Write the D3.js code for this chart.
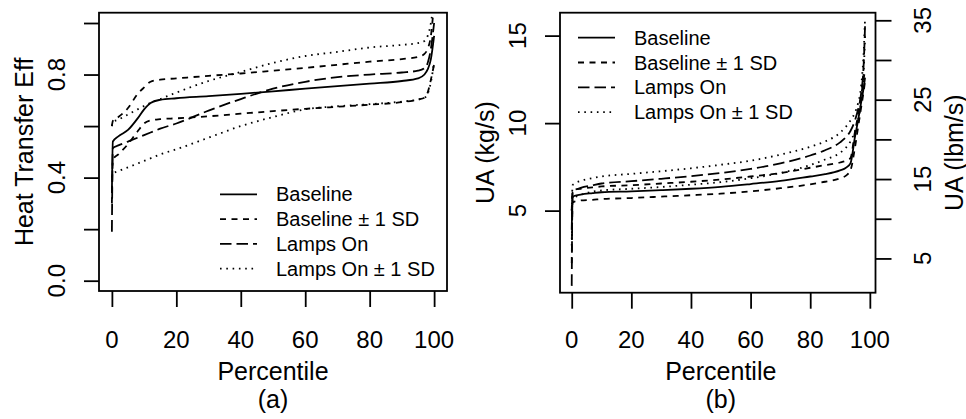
<!DOCTYPE html>
<meta charset="utf-8">
<style>
body { margin: 0; background: #fff; }
svg { display: block; background: #fff; }
text { font-family: "Liberation Sans", Arial, sans-serif; fill: #000; }
.tick line { stroke: #000; stroke-width: 1.8px; }
.frame { fill: none; stroke: #000; stroke-width: 1.8px; }
.curve { fill: none; stroke: #000; stroke-width: 1.8px; }
</style>
<svg width="966" height="419"></svg>
<script src="https://d3js.org/d3.v7.min.js"></script>
<script>

// series names, shared by both panels
var seriesNames = ["Baseline", "Baseline \u00b1 1 SD", "Lamps On", "Lamps On \u00b1 1 SD"];

// (a) heat transfer effectiveness vs percentile
var pctA     = [0, 0.3, 2, 5, 8, 10, 12, 15, 20, 30, 40, 50, 60, 70, 80, 90, 95, 97, 98, 99, 100];
var effBase  = [0.34, 0.54, 0.56, 0.585, 0.63, 0.665, 0.69, 0.702, 0.708, 0.716, 0.725, 0.735, 0.745, 0.755, 0.765, 0.775, 0.785, 0.80, 0.82, 0.86, 0.95];
var effBaseHi = [0.60, 0.62, 0.635, 0.67, 0.725, 0.75, 0.772, 0.78, 0.785, 0.795, 0.804, 0.815, 0.826, 0.838, 0.85, 0.86, 0.868, 0.88, 0.90, 0.95, 1.08];
var effBaseLo = [0.30, 0.47, 0.49, 0.53, 0.58, 0.61, 0.622, 0.627, 0.63, 0.638, 0.648, 0.658, 0.667, 0.675, 0.683, 0.693, 0.703, 0.71, 0.73, 0.78, 0.84];
var effLamp  = [0.19, 0.515, 0.525, 0.54, 0.555, 0.565, 0.575, 0.59, 0.61, 0.66, 0.705, 0.745, 0.772, 0.79, 0.80, 0.808, 0.815, 0.825, 0.845, 0.90, 1.00];
var effLampHi = [0.60, 0.615, 0.625, 0.645, 0.665, 0.678, 0.69, 0.705, 0.73, 0.775, 0.81, 0.845, 0.872, 0.888, 0.905, 0.915, 0.922, 0.93, 0.95, 1.00, 1.10];
var effLampLo = [0.40, 0.415, 0.425, 0.44, 0.455, 0.465, 0.475, 0.49, 0.51, 0.555, 0.60, 0.635, 0.665, 0.677, 0.685, 0.695, 0.703, 0.71, 0.725, 0.77, 0.85];

// (b) UA (kg/s) vs percentile
var pctB    = [0, 0.3, 1, 3, 7, 10, 20, 30, 40, 50, 60, 70, 80, 85, 90, 92, 93.5, 95, 96, 97, 98, 98.4];
var uaBase  = [3.9, 5.75, 5.85, 5.92, 6.0, 6.05, 6.1, 6.17, 6.25, 6.36, 6.52, 6.7, 6.95, 7.08, 7.3, 7.45, 7.7, 9.2, 10.1, 11.1, 12.1, 12.6];
var uaBaseHi = [5.0, 6.1, 6.2, 6.25, 6.33, 6.38, 6.45, 6.55, 6.65, 6.78, 6.95, 7.15, 7.45, 7.6, 7.75, 7.85, 8.0, 9.5, 10.4, 11.5, 12.6, 13.1];
var uaBaseLo = [2.0, 5.45, 5.52, 5.58, 5.62, 5.66, 5.72, 5.8, 5.88, 5.97, 6.1, 6.28, 6.5, 6.65, 6.85, 7.0, 7.3, 8.6, 9.7, 10.8, 11.9, 12.4];
var uaLamp  = [0.7, 6.05, 6.15, 6.3, 6.45, 6.55, 6.68, 6.82, 6.97, 7.15, 7.38, 7.7, 8.15, 8.45, 8.9, 9.2, 9.55, 10.15, 10.75, 11.6, 13.6, 15.6];
var uaLampHi = [5.0, 6.45, 6.55, 6.7, 6.86, 6.95, 7.1, 7.25, 7.42, 7.62, 7.85, 8.2, 8.65, 8.95, 9.45, 9.8, 10.15, 10.6, 11.1, 12.0, 14.3, 16.05];
var uaLampLo = [3.0, 5.65, 5.75, 5.9, 6.08, 6.15, 6.25, 6.35, 6.48, 6.63, 6.85, 7.15, 7.6, 7.92, 8.3, 8.6, 8.95, 9.55, 10.15, 11.1, 13.2, 15.0];

var xTicks = [0, 20, 40, 60, 80, 100];
var effTicks = [0, 0.2, 0.4, 0.6, 0.8, 1.0];
var effLabels = ["0.0", "", "0.4", "", "0.8", ""];
var kgTicks = [5, 10, 15];
var lbmTicks = [5, 10, 15, 20, 25, 30, 35];
var lbmLabels = ["5", "", "15", "", "25", "", "35"];
var KG_TO_LBM = 2.20462;

// line type per series: solid, dashed, long dash, dotted
var dashes = [null, "6,5.5", "11.5,5", "1.6,4.7"];

var svg = d3.select("svg");

function drawPanel(cfg) {
  var x = d3.scaleLinear().domain(cfg.xDomain).range([cfg.left, cfg.right]);
  var y = d3.scaleLinear().domain(cfg.yDomain).range([cfg.bottom, cfg.top]);
  var g = svg.append("g");

  g.append("clipPath").attr("id", cfg.id + "clip")
    .append("rect")
      .attr("x", cfg.left).attr("y", cfg.top)
      .attr("width", cfg.right - cfg.left).attr("height", cfg.bottom - cfg.top);

  var line = d3.line()
      .x(function(d) { return x(d[0]); })
      .y(function(d) { return y(d[1]); })
      .curve(d3.curveMonotoneX);

  // each "SD" style is used for two curves (upper / lower)
  cfg.series.forEach(function(s) {
    g.append("path")
        .attr("class", "curve")
        .attr("clip-path", "url(#" + cfg.id + "clip)")
        .attr("stroke-dasharray", dashes[s.type])
        .attr("d", line(cfg.pct.map(function(p, i) { return [p, s.values[i]]; })));
  });

  // x axis
  var xa = g.append("g")
      .attr("transform", "translate(0," + cfg.bottom + ")")
      .call(d3.axisBottom(x).tickValues(xTicks).tickSize(16).tickSizeOuter(0).tickFormat(""));
  xa.select(".domain").remove();
  g.selectAll(null).data(xTicks).enter().append("text")
      .attr("x", function(d) { return x(d); })
      .attr("y", 348)
      .attr("text-anchor", "middle")
      .style("font-size", "24px")
      .text(function(d) { return d; });

  // left axis
  var ya = g.append("g")
      .attr("transform", "translate(" + cfg.left + ",0)")
      .call(d3.axisLeft(y).tickValues(cfg.yTicks).tickSize(15).tickSizeOuter(0).tickFormat(""));
  ya.select(".domain").remove();
  g.selectAll(null).data(cfg.yTicks).enter().append("text")
      .attr("transform", function(d) { return "translate(" + (cfg.left - 34) + "," + y(d) + ") rotate(-90)"; })
      .attr("text-anchor", "middle")
      .style("font-size", "24px")
      .text(function(d, i) { return cfg.yLabels[i]; });

  g.append("text")
      .attr("transform", "translate(" + (cfg.left - 66) + "," + ((cfg.top + cfg.bottom) / 2) + ") rotate(-90)")
      .attr("text-anchor", "middle")
      .style("font-size", "25px")
      .text(cfg.yTitle);

  g.append("text")
      .attr("x", x(50)).attr("y", 380)
      .attr("text-anchor", "middle")
      .style("font-size", "25px")
      .text("Percentile");

  g.append("text")
      .attr("x", x(50)).attr("y", 408)
      .attr("text-anchor", "middle")
      .style("font-size", "25px")
      .text(cfg.tag);

  if (cfg.right2) {
    var y2 = d3.scaleLinear()
        .domain(cfg.yDomain.map(function(v) { return v * KG_TO_LBM; }))
        .range([cfg.bottom, cfg.top]);
    var ra = g.append("g")
        .attr("transform", "translate(" + cfg.right + ",0)")
        .call(d3.axisRight(y2).tickValues(lbmTicks).tickSize(16).tickSizeOuter(0).tickFormat(""));
    ra.select(".domain").remove();
    g.selectAll(null).data(lbmTicks).enter().append("text")
        .attr("transform", function(d) { return "translate(" + (cfg.right + 55) + "," + y2(d) + ") rotate(-90)"; })
        .attr("text-anchor", "middle")
        .style("font-size", "24px")
        .text(function(d, i) { return lbmLabels[i]; });
    g.append("text")
        .attr("transform", "translate(" + (cfg.right + 87) + "," + ((cfg.top + cfg.bottom) / 2) + ") rotate(-90)")
        .attr("text-anchor", "middle")
        .style("font-size", "25px")
        .text("UA (lbm/s)");
  }

  // legend
  var lg = g.append("g");
  seriesNames.forEach(function(name, i) {
    var ry = cfg.legY + i * 24.8;
    lg.append("line")
        .attr("class", "curve")
        .attr("x1", cfg.legX).attr("x2", cfg.legX + 37)
        .attr("y1", ry).attr("y2", ry)
        .attr("stroke-dasharray", dashes[i]);
    lg.append("text")
        .attr("x", cfg.legX + 56).attr("y", ry + 7)
        .style("font-size", "20px")
        .text(name);
  });

  g.append("rect")
      .attr("class", "frame")
      .attr("x", cfg.left).attr("y", cfg.top)
      .attr("width", cfg.right - cfg.left).attr("height", cfg.bottom - cfg.top);
}

drawPanel({
  id: "a", tag: "(a)",
  left: 99, right: 447, top: 12.7, bottom: 291,
  xDomain: [-4, 104], yDomain: [-0.04, 1.04],
  pct: pctA,
  series: [
    { type: 0, values: effBase },
    { type: 1, values: effBaseHi },
    { type: 1, values: effBaseLo },
    { type: 2, values: effLamp },
    { type: 3, values: effLampHi },
    { type: 3, values: effLampLo }
  ],
  yTicks: effTicks, yLabels: effLabels, yTitle: "Heat Transfer Eff",
  legX: 220, legY: 194.3
});

drawPanel({
  id: "b", tag: "(b)",
  left: 560, right: 875.5, top: 12.7, bottom: 292.7,
  xDomain: [-3.93, 101.9], yDomain: [0.31, 16.31],
  pct: pctB,
  series: [
    { type: 0, values: uaBase },
    { type: 1, values: uaBaseHi },
    { type: 1, values: uaBaseLo },
    { type: 2, values: uaLamp },
    { type: 3, values: uaLampHi },
    { type: 3, values: uaLampLo }
  ],
  yTicks: kgTicks, yLabels: kgTicks.map(String), yTitle: "UA (kg/s)",
  right2: true,
  legX: 578, legY: 37.7
});

</script>
